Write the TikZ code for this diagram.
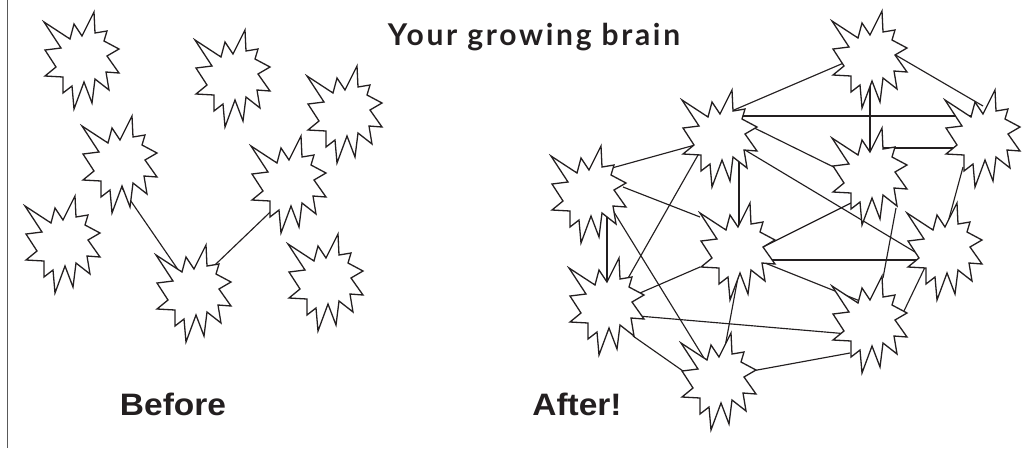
\documentclass[tikz,border=0pt]{standalone}
\usepackage{graphicx}
\usepackage{fontspec}
\setmainfont{Liberation Sans}
\newfontfamily\titlefont{Lato}[LetterSpace=9]
\usetikzlibrary{calc}
\definecolor{ink}{HTML}{231F20}
\tikzset{
  burstline/.style={draw=ink, fill=white, line width=1.3pt, line join=miter},
  wire/.style={draw=ink, line width=1.15pt},
  lbl/.style={anchor=base, text=ink, inner sep=0pt},
  burst/.pic={
    \path[burstline] (-38,-38) -- (-12,-21) -- (-8,-36) -- (0,-24) -- (12,-48) -- (13,-27)
      -- (25,-29) -- (22,-19) -- (37,-11) -- (25,-4) -- (37,13) -- (24,12)
      -- (27,30) -- (13,19) -- (10,43) -- (2,22) -- (-8,49) -- (-10,26)
      -- (-19,33) -- (-19,17) -- (-37,16) -- (-26,7) -- (-37,-10) -- (-21,-12) -- cycle;
  }
}
\begin{document}
\begin{tikzpicture}[x=1pt,y=-1pt]
\useasboundingbox (0,0) rectangle (1027,448);
\draw[black!65, line width=1.6pt] (7.5,0) -- (7.5,448);

% Before
\coordinate (bA) at (82,60);
\coordinate (bB) at (233,78);
\coordinate (bC) at (345,114);
\coordinate (bD) at (120,164);
\coordinate (bE) at (63,244);
\coordinate (bF) at (194,293);
\coordinate (bG) at (289,184);
\coordinate (bH) at (326,282);

% After
\coordinate (aA) at (870,59);
\coordinate (aB) at (983,138);
\coordinate (aC) at (870,176);
\coordinate (aD) at (720,138);
\coordinate (aE) at (589,194);
\coordinate (aF) at (607,306);
\coordinate (aG) at (719,381);
\coordinate (aH) at (738,251);
\coordinate (aI) at (945,251);
\coordinate (aJ) at (870,324);

% connectors
\draw[wire] ($(bD)+(-7,11)$) -- ($(bF)+(-2,-3)$);
\draw[wire] ($(bG)+(-1,11)$) -- ($(bF)+(0,-8)$);

\draw[wire] ($(aD)+(0,-22)$) -- ($(aA)+(-10,-3)$);
\draw[wire] ($(aA)+(5,-16)$) -- ($(aB)+(0,-32)$);
\draw[wire] (aA) -- (aC);
\draw[wire] ($(aD)+(0,-22)$) -- ($(aB)+(0,-22)$);
\draw[wire] ($(aC)+(10,-28)$) -- ($(aB)+(-10,10)$);
\draw[wire] ($(aD)+(10,-22)$) -- ($(aC)+(-10,4)$);
\draw[wire] ($(aD)+(5,0)$) -- ($(aI)+(-5,16)$);
\draw[wire] ($(aD)+(19,0)$) -- ($(aH)+(1,0)$);
\draw[wire] ($(aH)+(7,5)$) -- ($(aC)+(-5,20)$);
\draw[wire] ($(aH)+(0,9)$) -- ($(aI)+(0,9)$);
\draw[wire] ($(aH)+(2,2)$) -- ($(aJ)+(0,-19)$);
\draw[wire] ($(aH)+(3,10)$) -- ($(aG)+(6,-34)$);
\draw[wire] ($(aC)+(26,32)$) -- ($(aJ)+(13,-46)$);
\draw[wire] ($(aB)+(-20,29)$) -- ($(aI)+(2,-25)$);
\draw[wire] ($(aI)+(-18,12)$) -- ($(aJ)+(33,-11)$);
\draw[wire] ($(aF)+(8,8)$) -- ($(aJ)+(-10,11)$);
\draw[wire] ($(aG)+(11,-6)$) -- ($(aJ)+(-20,29)$);
\draw[wire] ($(aF)+(26,30)$) -- ($(aG)+(-36,-10)$);
\draw[wire] ($(aE)+(20,10)$) -- ($(aG)+(-12,-18)$);
\draw[wire] ($(aE)+(18,0)$) -- (aF);
\draw[wire] ($(aE)+(12,-23)$) -- ($(aD)+(-25,7)$);
\draw[wire] ($(aE)+(34,-7)$) -- ($(aH)+(-38,-34)$);
\draw[wire] ($(aF)+(20,-26)$) -- ($(aD)+(-22,17)$);
\draw[wire] ($(aF)+(33,-13)$) -- ($(aH)+(-38,16)$);

% bursts
\foreach \n in {bA,bB,bC,bD,bE,bF,bG,bH,aA,aB,aC,aD,aE,aF,aG,aH,aI,aJ}
  \pic at (\n) {burst};

% labels
\node[lbl] (title) at (534,45) {\fontsize{30}{36}\selectfont\titlefont\bfseries Your growing brain};
\node[lbl] (before) at (173,415) {\fontsize{31}{36}\selectfont\bfseries\scalebox{1.08}[1]{Before}};
\node[lbl] (after) at (577,415) {\fontsize{31}{36}\selectfont\bfseries\scalebox{1.08}[1]{After!}};
\end{tikzpicture}
\end{document}
